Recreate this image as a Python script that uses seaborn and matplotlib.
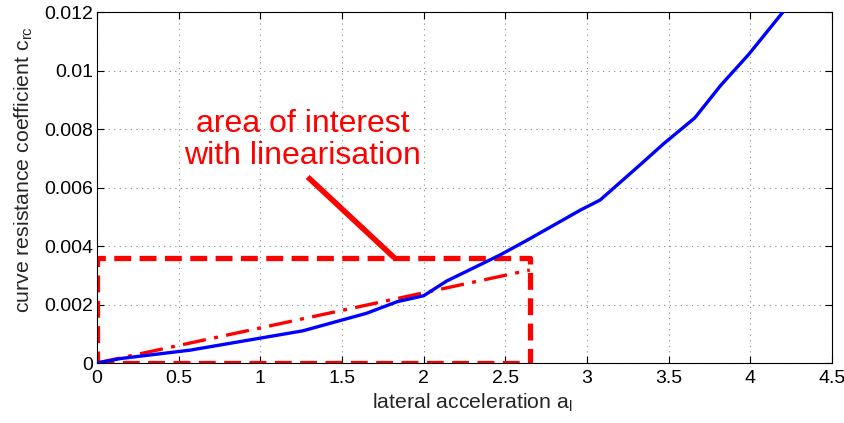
import numpy as np
import pandas as pd
import matplotlib
matplotlib.use("Agg")
import matplotlib.pyplot as plt
import seaborn as sns

# Measured curve resistance coefficient versus lateral acceleration
lat_acc = [0.0, 0.14, 0.57, 1.26, 1.65, 1.84, 2.0, 2.14, 2.47, 2.65, 2.96, 3.08,
           3.33, 3.47, 3.66, 3.82, 3.99, 4.20, 4.26]
c_rc = [0.0, 0.00015, 0.00044, 0.0011, 0.0017, 0.0021, 0.0023, 0.0028, 0.0037,
        0.00425, 0.00523, 0.00557, 0.0068, 0.0075, 0.00838, 0.0095, 0.01055,
        0.0120, 0.0124]

# Linearisation over the area of interest
lin_x = [0.0, 2.65]
lin_y = [0.0, 0.00318]

# Area of interest box limits
roi_x = [0.0, 2.65]
roi_y = [0.0, 0.0036]

# Pointer from the label to the box
pointer_x = [1.29, 1.82]
pointer_y = [0.00636, 0.0036]

x_ticks = [0, 0.5, 1, 1.5, 2, 2.5, 3, 3.5, 4, 4.5]
y_ticks = [0, 0.002, 0.004, 0.006, 0.008, 0.01, 0.012]
y_tick_labels = ["0", "0.002", "0.004", "0.006", "0.008", "0.01", "0.012"]

sns.set_style("ticks")
plt.rcParams["font.family"] = ["Liberation Sans", "DejaVu Sans"]
plt.rcParams["mathtext.default"] = "regular"

fig = plt.figure(figsize=(8.45, 4.23), dpi=100)
ax = fig.add_axes([0.1148, 0.1418, 0.8698, 0.8298])

df_curve = pd.DataFrame({"a": lat_acc, "c": c_rc})
df_lin = pd.DataFrame({"a": lin_x, "c": lin_y})

# Area of interest rectangle
box_x = [roi_x[0], roi_x[1], roi_x[1], roi_x[0], roi_x[0]]
box_y = [roi_y[0], roi_y[0], roi_y[1], roi_y[1], roi_y[0]]
ax.plot(box_x, box_y, color="red", lw=3.8, dashes=(3.2, 1.6), zorder=2,
        solid_capstyle="butt", dash_capstyle="butt")

sns.lineplot(data=df_lin, x="a", y="c", ax=ax, color="red", lw=2.4,
             estimator=None, sort=False, zorder=3,
             dashes=False)
ax.lines[-1].set_dashes([7, 2.5, 1.2, 2.5])

sns.lineplot(data=df_curve, x="a", y="c", ax=ax, color="blue", lw=2.4,
             estimator=None, sort=False, zorder=4)

ax.plot(pointer_x, pointer_y, color="red", lw=4.0, solid_capstyle="butt", zorder=3)
ax.text(1.26, 0.00655, "area of interest\nwith linearisation", color="red",
        fontsize=23, ha="center", va="bottom", linespacing=1.1)

ax.set_xlim(0, 4.5)
ax.set_ylim(0, 0.012)
ax.set_xticks(x_ticks)
ax.set_xticklabels([f"{t:g}" for t in x_ticks])
ax.set_yticks(y_ticks)
ax.set_yticklabels(y_tick_labels)
ax.tick_params(direction="in", top=True, right=True, labelsize=14, length=5,
               width=0.8, colors="black")
ax.tick_params(axis="x", pad=5)
ax.tick_params(axis="y", pad=3)
for s in ax.spines.values():
    s.set_visible(True)
    s.set_linewidth(0.8)
    s.set_color("black")
ax.grid(True, linestyle=(0, (1, 4)), color="#888888", lw=0.8)
ax.set_axisbelow(True)

ax.set_xlabel("lateral acceleration a$_{l}$", fontsize=15.3)
ax.set_ylabel("curve resistance coefficient c$_{rc}$", fontsize=15.3)
ax.xaxis.set_label_coords(0.51, -0.083, transform=ax.transAxes)
ax.yaxis.set_label_coords(-0.084, 0.55, transform=ax.transAxes)
ax.xaxis.label.set_va("top")
ax.yaxis.label.set_va("bottom")

fig.savefig("out.png", dpi=100)
